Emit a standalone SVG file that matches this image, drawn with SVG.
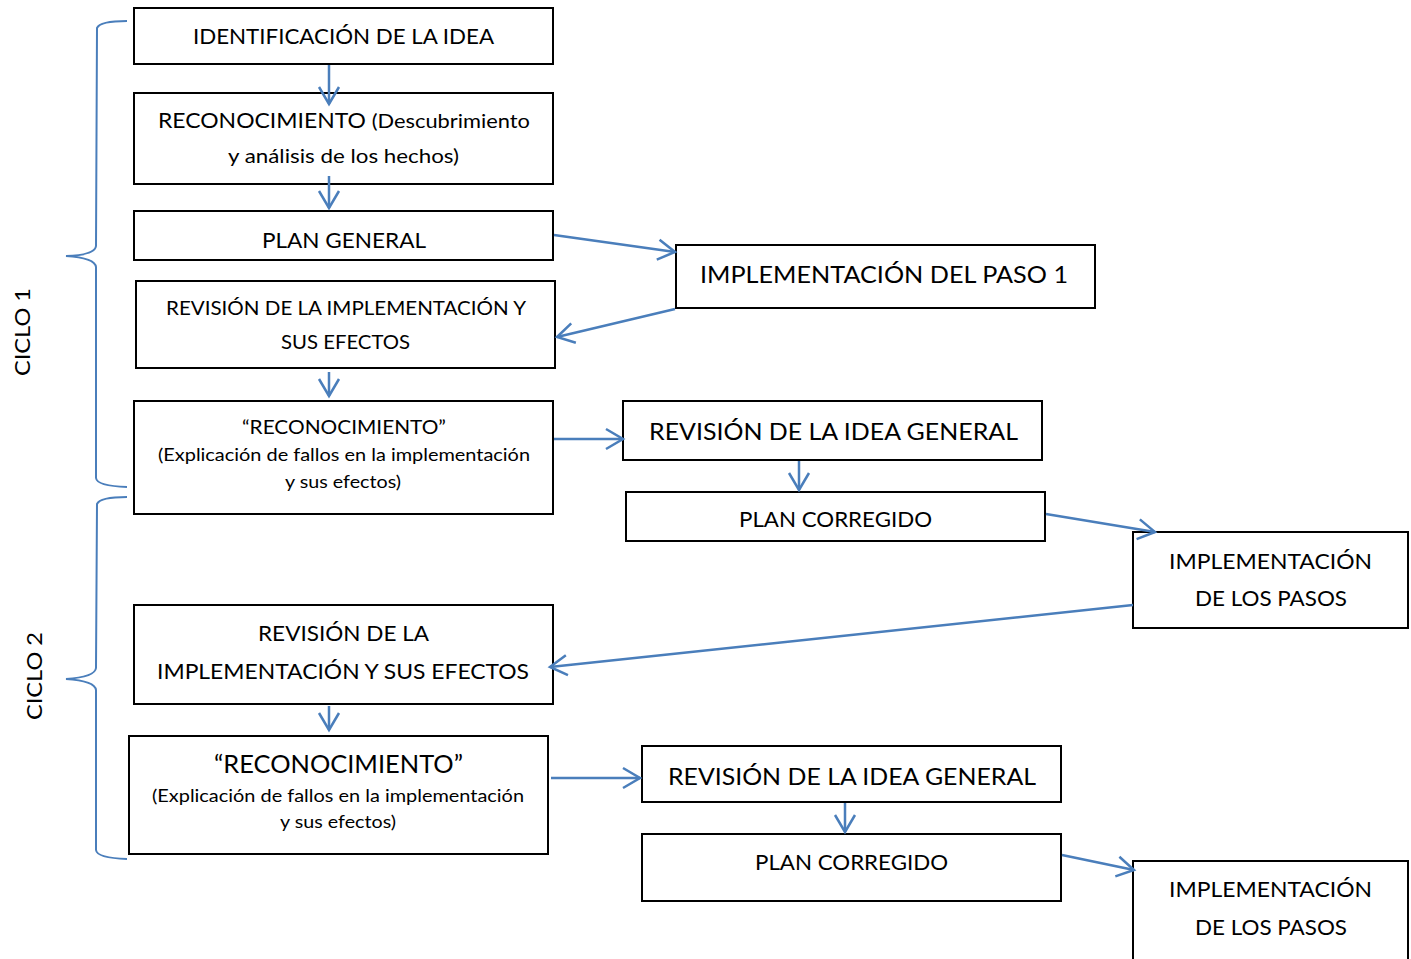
<svg xmlns="http://www.w3.org/2000/svg" width="1411" height="959" viewBox="0 0 1411 959">
<style>
.box{fill:#fff;stroke:#000;stroke-width:2}
.t{font-family:Lato,"Open Sans","Liberation Sans",sans-serif;fill:#000;text-anchor:middle}
.c{fill:none;stroke:#4a7ebb;stroke-width:2.5}
.br{fill:none;stroke:#4a7ebb;stroke-width:2}
</style>
<defs>
<marker id="ah" markerUnits="userSpaceOnUse" markerWidth="40" markerHeight="40" viewBox="-20 -20 40 40" refX="0" refY="0" orient="auto" overflow="visible">
<path d="M-17,-10 L0,0 L-17,10" fill="none" stroke="#4a7ebb" stroke-width="2.5"/>
</marker>
</defs>
<rect width="1411" height="959" fill="#fff"/>

<g id="braces">
<path class="br" d="M127,21 Q100,21 97,28 L96,246 Q95,255 66,256 Q95,258 96,267 L96,478 Q97,486 127,487"/>
<path class="br" d="M127,497 Q100,497 97,504 L96,668 Q95,677 66,679 Q95,681 96,690 L96,850 Q97,858 127,859"/>
<text class="t" font-size="22" transform="translate(30,332) rotate(-90)" textLength="88" lengthAdjust="spacingAndGlyphs">CICLO 1</text>
<text class="t" font-size="22" transform="translate(42,676) rotate(-90)" textLength="88" lengthAdjust="spacingAndGlyphs">CICLO 2</text>
</g>

<g id="n1"><rect class="box" x="134" y="8" width="419" height="56"/>
<text class="t" x="343.5" y="44" font-size="21" textLength="301" lengthAdjust="spacingAndGlyphs">IDENTIFICACIÓN DE LA IDEA</text></g>

<g id="n2"><rect class="box" x="134" y="93" width="419" height="91"/>
<text class="t" x="344" y="128" font-size="21" textLength="372" lengthAdjust="spacingAndGlyphs">RECONOCIMIENTO <tspan font-size="20">(Descubrimiento</tspan></text>
<text class="t" x="343.5" y="163" font-size="20" textLength="231" lengthAdjust="spacingAndGlyphs">y análisis de los hechos)</text></g>

<g id="n3"><rect class="box" x="134" y="211" width="419" height="49"/>
<text class="t" x="344" y="248" font-size="21" textLength="164" lengthAdjust="spacingAndGlyphs">PLAN GENERAL</text></g>

<g id="n4"><rect class="box" x="136" y="281" width="419" height="87"/>
<text class="t" x="346" y="315" font-size="19" textLength="360" lengthAdjust="spacingAndGlyphs">REVISIÓN DE LA IMPLEMENTACIÓN Y</text>
<text class="t" x="345.5" y="349" font-size="19" textLength="129" lengthAdjust="spacingAndGlyphs">SUS EFECTOS</text></g>

<g id="n5"><rect class="box" x="134" y="401" width="419" height="113"/>
<text class="t" x="344" y="434" font-size="19" textLength="204" lengthAdjust="spacingAndGlyphs">“RECONOCIMIENTO”</text>
<text class="t" x="344" y="461" font-size="18" textLength="372" lengthAdjust="spacingAndGlyphs">(Explicación de fallos en la implementación</text>
<text class="t" x="343" y="488" font-size="18" textLength="116" lengthAdjust="spacingAndGlyphs">y sus efectos)</text></g>

<g id="n6"><rect class="box" x="676" y="245" width="419" height="63"/>
<text class="t" x="884" y="283" font-size="23" textLength="368" lengthAdjust="spacingAndGlyphs">IMPLEMENTACIÓN DEL PASO 1</text></g>

<g id="n7"><rect class="box" x="623" y="401" width="419" height="59"/>
<text class="t" x="833.5" y="440" font-size="23" textLength="369" lengthAdjust="spacingAndGlyphs">REVISIÓN DE LA IDEA GENERAL</text></g>

<g id="n8"><rect class="box" x="626" y="492" width="419" height="49"/>
<text class="t" x="835.5" y="527" font-size="21" textLength="193" lengthAdjust="spacingAndGlyphs">PLAN CORREGIDO</text></g>

<g id="n9"><rect class="box" x="1133" y="532" width="275" height="96"/>
<text class="t" x="1270.5" y="569" font-size="21" textLength="203" lengthAdjust="spacingAndGlyphs">IMPLEMENTACIÓN</text>
<text class="t" x="1271" y="606" font-size="21" textLength="152" lengthAdjust="spacingAndGlyphs">DE LOS PASOS</text></g>

<g id="n10"><rect class="box" x="134" y="605" width="419" height="99"/>
<text class="t" x="343.5" y="641" font-size="21" textLength="171" lengthAdjust="spacingAndGlyphs">REVISIÓN DE LA</text>
<text class="t" x="343" y="679" font-size="21" textLength="372" lengthAdjust="spacingAndGlyphs">IMPLEMENTACIÓN Y SUS EFECTOS</text></g>

<g id="n11"><rect class="box" x="129" y="736" width="419" height="118"/>
<text class="t" x="338.5" y="773" font-size="25" textLength="249" lengthAdjust="spacingAndGlyphs">“RECONOCIMIENTO”</text>
<text class="t" x="338" y="802" font-size="18" textLength="372" lengthAdjust="spacingAndGlyphs">(Explicación de fallos en la implementación</text>
<text class="t" x="338" y="828" font-size="18" textLength="116" lengthAdjust="spacingAndGlyphs">y sus efectos)</text></g>

<g id="n12"><rect class="box" x="642" y="746" width="419" height="56"/>
<text class="t" x="852" y="785" font-size="23" textLength="368" lengthAdjust="spacingAndGlyphs">REVISIÓN DE LA IDEA GENERAL</text></g>

<g id="n13"><rect class="box" x="642" y="834" width="419" height="67"/>
<text class="t" x="851.5" y="870" font-size="21" textLength="193" lengthAdjust="spacingAndGlyphs">PLAN CORREGIDO</text></g>

<g id="n14"><rect class="box" x="1133" y="861" width="275" height="110"/>
<text class="t" x="1270.5" y="897" font-size="21" textLength="203" lengthAdjust="spacingAndGlyphs">IMPLEMENTACIÓN</text>
<text class="t" x="1271" y="935" font-size="21" textLength="152" lengthAdjust="spacingAndGlyphs">DE LOS PASOS</text></g>

<g id="connectors">
<line class="c" x1="329" y1="65" x2="329" y2="104" marker-end="url(#ah)"/>
<line class="c" x1="329" y1="176" x2="329" y2="208" marker-end="url(#ah)"/>
<line class="c" x1="554" y1="235" x2="675" y2="252" marker-end="url(#ah)"/>
<line class="c" x1="675" y1="309" x2="557" y2="337" marker-end="url(#ah)"/>
<line class="c" x1="329" y1="372" x2="329" y2="396" marker-end="url(#ah)"/>
<line class="c" x1="554" y1="439" x2="623" y2="439" marker-end="url(#ah)"/>
<line class="c" x1="799" y1="461" x2="799" y2="490" marker-end="url(#ah)"/>
<line class="c" x1="1046" y1="514" x2="1155" y2="532" marker-end="url(#ah)"/>
<line class="c" x1="1133" y1="605" x2="550" y2="667" marker-end="url(#ah)"/>
<line class="c" x1="329" y1="706" x2="329" y2="730" marker-end="url(#ah)"/>
<line class="c" x1="551" y1="778" x2="640" y2="778" marker-end="url(#ah)"/>
<line class="c" x1="845" y1="803" x2="845" y2="832" marker-end="url(#ah)"/>
<line class="c" x1="1062" y1="855" x2="1134" y2="870" marker-end="url(#ah)"/>
</g>
</svg>
